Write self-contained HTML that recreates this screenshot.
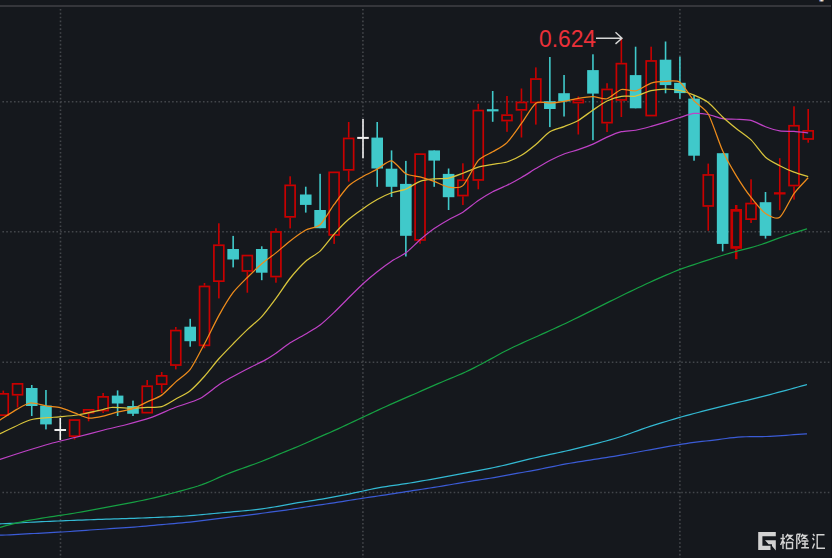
<!DOCTYPE html><html><head><meta charset="utf-8"><style>html,body{margin:0;padding:0;background:#15181d;width:832px;height:558px;overflow:hidden}svg{display:block}</style></head><body>
<svg width="832" height="558" viewBox="0 0 832 558">
<rect width="832" height="558" fill="#15181d"/>
<rect x="0" y="5" width="832" height="2" fill="#35363b"/>
<line x1="2.4" y1="101.8" x2="832" y2="101.8" stroke="#43464b" stroke-width="1.6" stroke-dasharray="1.6 2.257"/>
<line x1="2.4" y1="231.8" x2="832" y2="231.8" stroke="#43464b" stroke-width="1.6" stroke-dasharray="1.6 2.257"/>
<line x1="2.4" y1="362.3" x2="832" y2="362.3" stroke="#43464b" stroke-width="1.6" stroke-dasharray="1.6 2.257"/>
<line x1="2.4" y1="492.5" x2="832" y2="492.5" stroke="#43464b" stroke-width="1.6" stroke-dasharray="1.6 2.257"/>
<line x1="60.5" y1="9" x2="60.5" y2="558" stroke="#43464b" stroke-width="1.6" stroke-dasharray="1.6 2.264"/>
<line x1="362.9" y1="9" x2="362.9" y2="558" stroke="#43464b" stroke-width="1.6" stroke-dasharray="1.6 2.264"/>
<line x1="679.9" y1="9" x2="679.9" y2="558" stroke="#43464b" stroke-width="1.6" stroke-dasharray="1.6 2.264"/>
<rect x="2.5" y="390.6" width="1.6" height="2.4" fill="#c80000"/>
<rect x="-1.65" y="393.85" width="9.9" height="21.3" fill="#15181d" stroke="#c80000" stroke-width="1.7"/>
<rect x="16.75" y="395.6" width="1.6" height="11.9" fill="#c80000"/>
<rect x="12.6" y="383.85" width="9.9" height="10.9" fill="#15181d" stroke="#c80000" stroke-width="1.7"/>
<rect x="30.95" y="385" width="1.6" height="31" fill="#40c9ca"/>
<rect x="25.95" y="388" width="11.6" height="18" fill="#40c9ca"/>
<rect x="45.15" y="390" width="1.6" height="39.4" fill="#40c9ca"/>
<rect x="40.15" y="405.6" width="11.6" height="18.8" fill="#40c9ca"/>
<rect x="59.45" y="418" width="1.6" height="22" fill="#f0f0f0"/>
<rect x="54.45" y="429" width="11.6" height="2" fill="#f0f0f0"/>
<rect x="73.75" y="437" width="1.6" height="2.5" fill="#c80000"/>
<rect x="69.6" y="420.05" width="9.9" height="16.1" fill="#15181d" stroke="#c80000" stroke-width="1.7"/>
<rect x="87.8" y="413.5" width="1.6" height="7.8" fill="#c80000"/>
<rect x="83.65" y="409.85" width="9.9" height="2.8" fill="#15181d" stroke="#c80000" stroke-width="1.7"/>
<rect x="102.35" y="393" width="1.6" height="3" fill="#c80000"/>
<rect x="102.35" y="411.4" width="1.6" height="1.6" fill="#c80000"/>
<rect x="98.2" y="396.85" width="9.9" height="13.7" fill="#15181d" stroke="#c80000" stroke-width="1.7"/>
<rect x="116.8" y="390.4" width="1.6" height="25.6" fill="#40c9ca"/>
<rect x="111.8" y="395.6" width="11.6" height="7.9" fill="#40c9ca"/>
<rect x="132.2" y="400.6" width="1.6" height="15.4" fill="#40c9ca"/>
<rect x="127.2" y="406" width="11.6" height="7.75" fill="#40c9ca"/>
<rect x="146.4" y="380" width="1.6" height="5.4" fill="#c80000"/>
<rect x="142.25" y="386.25" width="9.9" height="26.4" fill="#15181d" stroke="#c80000" stroke-width="1.7"/>
<rect x="160.9" y="372" width="1.6" height="3" fill="#c80000"/>
<rect x="160.9" y="385" width="1.6" height="8" fill="#c80000"/>
<rect x="156.75" y="375.85" width="9.9" height="8.3" fill="#15181d" stroke="#c80000" stroke-width="1.7"/>
<rect x="175" y="327" width="1.6" height="2.7" fill="#c80000"/>
<rect x="175" y="365.9" width="1.6" height="3.5" fill="#c80000"/>
<rect x="170.85" y="330.55" width="9.9" height="34.5" fill="#15181d" stroke="#c80000" stroke-width="1.7"/>
<rect x="189.4" y="318.8" width="1.6" height="27.9" fill="#40c9ca"/>
<rect x="184.4" y="326.7" width="11.6" height="14.5" fill="#40c9ca"/>
<rect x="203.7" y="283" width="1.6" height="2.6" fill="#c80000"/>
<rect x="203.7" y="346.2" width="1.6" height="2.1" fill="#c80000"/>
<rect x="199.55" y="286.45" width="9.9" height="58.9" fill="#15181d" stroke="#c80000" stroke-width="1.7"/>
<rect x="218.05" y="223.3" width="1.6" height="21.1" fill="#c80000"/>
<rect x="218.05" y="282" width="1.6" height="16.4" fill="#c80000"/>
<rect x="213.9" y="245.25" width="9.9" height="35.9" fill="#15181d" stroke="#c80000" stroke-width="1.7"/>
<rect x="232.35" y="235.9" width="1.6" height="31.5" fill="#40c9ca"/>
<rect x="227.35" y="249" width="11.6" height="10.5" fill="#40c9ca"/>
<rect x="246.55" y="271.8" width="1.6" height="20.9" fill="#c80000"/>
<rect x="242.4" y="255.55" width="9.9" height="15.4" fill="#15181d" stroke="#c80000" stroke-width="1.7"/>
<rect x="260.95" y="246.3" width="1.6" height="33.9" fill="#40c9ca"/>
<rect x="255.95" y="249" width="11.6" height="23.7" fill="#40c9ca"/>
<rect x="275.15" y="228.3" width="1.6" height="2.8" fill="#c80000"/>
<rect x="275.15" y="277.4" width="1.6" height="5.3" fill="#c80000"/>
<rect x="271" y="231.95" width="9.9" height="44.6" fill="#15181d" stroke="#c80000" stroke-width="1.7"/>
<rect x="289.35" y="176.3" width="1.6" height="8.2" fill="#c80000"/>
<rect x="289.35" y="217.7" width="1.6" height="10.7" fill="#c80000"/>
<rect x="285.2" y="185.35" width="9.9" height="31.5" fill="#15181d" stroke="#c80000" stroke-width="1.7"/>
<rect x="304.95" y="186.7" width="1.6" height="25.9" fill="#40c9ca"/>
<rect x="299.95" y="194.5" width="11.6" height="10.4" fill="#40c9ca"/>
<rect x="319.3" y="173.8" width="1.6" height="54.4" fill="#40c9ca"/>
<rect x="314.3" y="210" width="11.6" height="18.2" fill="#40c9ca"/>
<rect x="333.35" y="235.8" width="1.6" height="8.1" fill="#c80000"/>
<rect x="329.2" y="172.35" width="9.9" height="62.6" fill="#15181d" stroke="#c80000" stroke-width="1.7"/>
<rect x="347.9" y="122" width="1.6" height="15.6" fill="#c80000"/>
<rect x="347.9" y="170.7" width="1.6" height="10.9" fill="#c80000"/>
<rect x="343.75" y="138.45" width="9.9" height="31.4" fill="#15181d" stroke="#c80000" stroke-width="1.7"/>
<rect x="362.2" y="119" width="1.6" height="39.3" fill="#f0f0f0"/>
<rect x="357.2" y="136.9" width="11.6" height="2" fill="#f0f0f0"/>
<rect x="376.4" y="122" width="1.6" height="64.8" fill="#40c9ca"/>
<rect x="371.4" y="137.6" width="11.6" height="30.9" fill="#40c9ca"/>
<rect x="390.75" y="150.4" width="1.6" height="46.6" fill="#40c9ca"/>
<rect x="385.75" y="168.7" width="11.6" height="18.1" fill="#40c9ca"/>
<rect x="405.05" y="160.9" width="1.6" height="95.6" fill="#40c9ca"/>
<rect x="400.05" y="183.9" width="11.6" height="51.9" fill="#40c9ca"/>
<rect x="419.25" y="240.8" width="1.6" height="2.9" fill="#c80000"/>
<rect x="415.1" y="154.15" width="9.9" height="85.8" fill="#15181d" stroke="#c80000" stroke-width="1.7"/>
<rect x="433.4" y="150.4" width="1.6" height="36.4" fill="#40c9ca"/>
<rect x="428.4" y="150.4" width="11.6" height="10.2" fill="#40c9ca"/>
<rect x="447.8" y="168.5" width="1.6" height="41.5" fill="#40c9ca"/>
<rect x="442.8" y="173.9" width="11.6" height="23.3" fill="#40c9ca"/>
<rect x="462.1" y="163.3" width="1.6" height="16.1" fill="#c80000"/>
<rect x="462.1" y="196.4" width="1.6" height="8.6" fill="#c80000"/>
<rect x="457.95" y="180.25" width="9.9" height="15.3" fill="#15181d" stroke="#c80000" stroke-width="1.7"/>
<rect x="477.5" y="103.8" width="1.6" height="5.9" fill="#c80000"/>
<rect x="477.5" y="180.8" width="1.6" height="8.5" fill="#c80000"/>
<rect x="473.35" y="110.55" width="9.9" height="69.4" fill="#15181d" stroke="#c80000" stroke-width="1.7"/>
<rect x="491.9" y="91" width="1.6" height="30.8" fill="#40c9ca"/>
<rect x="486.9" y="109.2" width="11.6" height="2.2" fill="#40c9ca"/>
<rect x="506.2" y="96" width="1.6" height="18.3" fill="#c80000"/>
<rect x="506.2" y="121.4" width="1.6" height="10.4" fill="#c80000"/>
<rect x="502.05" y="115.15" width="9.9" height="5.4" fill="#15181d" stroke="#c80000" stroke-width="1.7"/>
<rect x="520.65" y="88.5" width="1.6" height="13.1" fill="#c80000"/>
<rect x="520.65" y="110.7" width="1.6" height="26.8" fill="#c80000"/>
<rect x="516.5" y="102.45" width="9.9" height="7.4" fill="#15181d" stroke="#c80000" stroke-width="1.7"/>
<rect x="535.05" y="67.4" width="1.6" height="10.8" fill="#c80000"/>
<rect x="535.05" y="103.3" width="1.6" height="21.3" fill="#c80000"/>
<rect x="530.9" y="79.05" width="9.9" height="23.4" fill="#15181d" stroke="#c80000" stroke-width="1.7"/>
<rect x="549.05" y="57" width="1.6" height="70.1" fill="#40c9ca"/>
<rect x="544.05" y="101.2" width="11.6" height="7.8" fill="#40c9ca"/>
<rect x="563.25" y="75" width="1.6" height="41.5" fill="#40c9ca"/>
<rect x="558.25" y="93.2" width="11.6" height="8.2" fill="#40c9ca"/>
<rect x="577.5" y="96.4" width="1.6" height="2.7" fill="#c80000"/>
<rect x="577.5" y="103.4" width="1.6" height="31.1" fill="#c80000"/>
<rect x="573.35" y="99.95" width="9.9" height="2.6" fill="#15181d" stroke="#c80000" stroke-width="1.7"/>
<rect x="592.15" y="54.3" width="1.6" height="85.9" fill="#40c9ca"/>
<rect x="587.15" y="70.1" width="11.6" height="23.5" fill="#40c9ca"/>
<rect x="606.25" y="83.2" width="1.6" height="5.4" fill="#c80000"/>
<rect x="606.25" y="123.5" width="1.6" height="8.5" fill="#c80000"/>
<rect x="602.1" y="89.45" width="9.9" height="33.2" fill="#15181d" stroke="#c80000" stroke-width="1.7"/>
<rect x="620.55" y="38.3" width="1.6" height="24.5" fill="#c80000"/>
<rect x="620.55" y="100.8" width="1.6" height="16.2" fill="#c80000"/>
<rect x="616.4" y="63.65" width="9.9" height="36.3" fill="#15181d" stroke="#c80000" stroke-width="1.7"/>
<rect x="634.8" y="46.7" width="1.6" height="61.6" fill="#40c9ca"/>
<rect x="629.8" y="75.1" width="11.6" height="33.2" fill="#40c9ca"/>
<rect x="650.35" y="46.7" width="1.6" height="13.4" fill="#c80000"/>
<rect x="646.2" y="60.95" width="9.9" height="54.6" fill="#15181d" stroke="#c80000" stroke-width="1.7"/>
<rect x="664.75" y="41.5" width="1.6" height="51.8" fill="#40c9ca"/>
<rect x="659.75" y="59.7" width="11.6" height="25.4" fill="#40c9ca"/>
<rect x="679.1" y="56.7" width="1.6" height="42.1" fill="#40c9ca"/>
<rect x="674.1" y="82.8" width="11.6" height="10.3" fill="#40c9ca"/>
<rect x="693.25" y="95.4" width="1.6" height="65.3" fill="#40c9ca"/>
<rect x="688.25" y="98.6" width="11.6" height="57.1" fill="#40c9ca"/>
<rect x="707.45" y="163.6" width="1.6" height="10.5" fill="#c80000"/>
<rect x="707.45" y="206.8" width="1.6" height="23.9" fill="#c80000"/>
<rect x="703.3" y="174.95" width="9.9" height="31" fill="#15181d" stroke="#c80000" stroke-width="1.7"/>
<rect x="721.85" y="153.2" width="1.6" height="98.2" fill="#40c9ca"/>
<rect x="716.85" y="153.2" width="11.6" height="90.7" fill="#40c9ca"/>
<rect x="734.95" y="205" width="2.5" height="4" fill="#c80000"/>
<rect x="734.95" y="248.8" width="2.5" height="10.4" fill="#c80000"/>
<rect x="731.75" y="210.35" width="8.9" height="37.1" fill="#15181d" stroke="#c80000" stroke-width="2.7"/>
<rect x="750.25" y="179.3" width="1.6" height="23.4" fill="#c80000"/>
<rect x="750.25" y="220" width="1.6" height="3" fill="#c80000"/>
<rect x="746.1" y="203.55" width="9.9" height="15.6" fill="#15181d" stroke="#c80000" stroke-width="1.7"/>
<rect x="764.7" y="192" width="1.6" height="46.6" fill="#40c9ca"/>
<rect x="759.7" y="202.2" width="11.6" height="33.6" fill="#40c9ca"/>
<rect x="778.95" y="158.2" width="1.6" height="52" fill="#c80000"/>
<rect x="773.95" y="192.2" width="11.6" height="2.3" fill="#c80000"/>
<rect x="793.2" y="106.3" width="1.6" height="18.6" fill="#c80000"/>
<rect x="793.2" y="186.4" width="1.6" height="13.2" fill="#c80000"/>
<rect x="789.05" y="125.75" width="9.9" height="59.8" fill="#15181d" stroke="#c80000" stroke-width="1.7"/>
<rect x="807.4" y="109" width="1.6" height="21" fill="#c80000"/>
<rect x="807.4" y="139.8" width="1.6" height="2.9" fill="#c80000"/>
<rect x="803.25" y="130.85" width="9.9" height="8.1" fill="#15181d" stroke="#c80000" stroke-width="1.7"/>
<path d="M-2 535.26 L2 535.16 L6 535.02 L10 534.85 L14 534.63 L18 534.4 L22 534.16 L26 533.93 L30 533.7 L34 533.49 L38 533.28 L42 533.07 L46 532.86 L50 532.65 L54 532.43 L58 532.21 L62 531.98 L66 531.74 L70 531.49 L74 531.22 L78 530.93 L82 530.62 L86 530.31 L90 530.02 L94 529.74 L98 529.48 L102 529.23 L106 528.98 L110 528.72 L114 528.46 L118 528.2 L122 527.92 L126 527.64 L130 527.35 L134 527.05 L138 526.73 L142 526.39 L146 526.05 L150 525.69 L154 525.32 L158 524.96 L162 524.6 L166 524.24 L170 523.89 L174 523.54 L178 523.19 L182 522.82 L186 522.44 L190 522.04 L194 521.61 L198 521.15 L202 520.65 L206 520.14 L210 519.61 L214 519.08 L218 518.57 L222 518.07 L226 517.59 L230 517.12 L234 516.68 L238 516.24 L242 515.81 L246 515.35 L250 514.86 L254 514.35 L258 513.82 L262 513.28 L266 512.74 L270 512.21 L274 511.69 L278 511.17 L282 510.64 L286 510.09 L290 509.5 L294 508.89 L298 508.25 L302 507.61 L306 506.97 L310 506.35 L314 505.75 L318 505.15 L322 504.56 L326 503.97 L330 503.39 L334 502.8 L338 502.19 L342 501.57 L346 500.94 L350 500.28 L354 499.62 L358 498.97 L362 498.34 L366 497.74 L370 497.16 L374 496.59 L378 496.01 L382 495.42 L386 494.82 L390 494.19 L394 493.56 L398 492.93 L402 492.3 L406 491.67 L410 491.05 L414 490.44 L418 489.84 L422 489.24 L426 488.63 L430 488.03 L434 487.4 L438 486.76 L442 486.1 L446 485.41 L450 484.72 L454 484.02 L458 483.32 L462 482.64 L466 481.97 L470 481.33 L474 480.7 L478 480.09 L482 479.49 L486 478.88 L490 478.26 L494 477.62 L498 476.94 L502 476.21 L506 475.46 L510 474.69 L514 473.94 L518 473.2 L522 472.48 L526 471.76 L530 471.04 L534 470.3 L538 469.54 L542 468.76 L546 467.95 L550 467.13 L554 466.31 L558 465.5 L562 464.71 L566 463.96 L570 463.25 L574 462.57 L578 461.93 L582 461.3 L586 460.67 L590 460.05 L594 459.43 L598 458.81 L602 458.19 L606 457.57 L610 456.94 L614 456.3 L618 455.63 L622 454.94 L626 454.23 L630 453.5 L634 452.76 L638 452.01 L642 451.27 L646 450.53 L650 449.8 L654 449.07 L658 448.35 L662 447.63 L666 446.91 L670 446.2 L674 445.51 L678 444.83 L682 444.17 L686 443.54 L690 442.95 L694 442.39 L698 441.88 L702 441.42 L706 441 L710 440.58 L714 440.12 L718 439.59 L722 439.03 L726 438.47 L730 437.96 L734 437.53 L738 437.18 L742 436.93 L746 436.77 L750 436.67 L754 436.62 L758 436.6 L762 436.56 L766 436.5 L770 436.38 L774 436.2 L778 435.94 L782 435.64 L786 435.33 L790 435.02 L794 434.72 L798 434.44 L802 434.17 L806 433.9 L807 433.83" fill="none" stroke="#3b5bd6" stroke-width="1.2" stroke-linejoin="round"/>
<path d="M-2 523.9 L2 523.76 L6 523.62 L10 523.45 L14 523.25 L18 523.01 L22 522.76 L26 522.5 L30 522.26 L34 522.04 L38 521.84 L42 521.65 L46 521.48 L50 521.32 L54 521.15 L58 520.99 L62 520.83 L66 520.67 L70 520.51 L74 520.35 L78 520.19 L82 520.04 L86 519.88 L90 519.73 L94 519.59 L98 519.46 L102 519.33 L106 519.2 L110 519.08 L114 518.95 L118 518.83 L122 518.7 L126 518.57 L130 518.44 L134 518.3 L138 518.15 L142 517.99 L146 517.83 L150 517.67 L154 517.51 L158 517.34 L162 517.18 L166 517.01 L170 516.83 L174 516.65 L178 516.45 L182 516.24 L186 516 L190 515.71 L194 515.38 L198 515.02 L202 514.64 L206 514.26 L210 513.89 L214 513.51 L218 513.14 L222 512.77 L226 512.4 L230 512.03 L234 511.68 L238 511.33 L242 510.99 L246 510.63 L250 510.25 L254 509.83 L258 509.36 L262 508.84 L266 508.28 L270 507.67 L274 507.02 L278 506.33 L282 505.6 L286 504.85 L290 504.1 L294 503.37 L298 502.69 L302 502.07 L306 501.49 L310 500.92 L314 500.34 L318 499.71 L322 499.05 L326 498.36 L330 497.64 L334 496.91 L338 496.16 L342 495.4 L346 494.6 L350 493.79 L354 492.95 L358 492.1 L362 491.25 L366 490.39 L370 489.53 L374 488.71 L378 487.93 L382 487.21 L386 486.55 L390 485.94 L394 485.36 L398 484.79 L402 484.21 L406 483.62 L410 482.99 L414 482.34 L418 481.66 L422 480.96 L426 480.26 L430 479.55 L434 478.84 L438 478.12 L442 477.4 L446 476.67 L450 475.93 L454 475.2 L458 474.46 L462 473.71 L466 472.96 L470 472.2 L474 471.44 L478 470.67 L482 469.89 L486 469.11 L490 468.32 L494 467.51 L498 466.66 L502 465.78 L506 464.85 L510 463.89 L514 462.9 L518 461.91 L522 460.92 L526 459.93 L530 458.95 L534 457.99 L538 457.06 L542 456.16 L546 455.3 L550 454.44 L554 453.6 L558 452.75 L562 451.88 L566 450.98 L570 450.05 L574 449.09 L578 448.11 L582 447.11 L586 446.11 L590 445.1 L594 444.09 L598 443.07 L602 442.03 L606 440.97 L610 439.88 L614 438.74 L618 437.53 L622 436.24 L626 434.88 L630 433.47 L634 432.03 L638 430.58 L642 429.16 L646 427.78 L650 426.44 L654 425.15 L658 423.9 L662 422.68 L666 421.46 L670 420.26 L674 419.08 L678 417.92 L682 416.79 L686 415.68 L690 414.6 L694 413.53 L698 412.47 L702 411.42 L706 410.38 L710 409.36 L714 408.34 L718 407.33 L722 406.33 L726 405.34 L730 404.36 L734 403.4 L738 402.44 L742 401.49 L746 400.55 L750 399.59 L754 398.62 L758 397.63 L762 396.62 L766 395.59 L770 394.55 L774 393.49 L778 392.44 L782 391.37 L786 390.3 L790 389.21 L794 388.12 L798 387.02 L802 385.92 L806 384.81 L807 384.54" fill="none" stroke="#33b9d3" stroke-width="1.2" stroke-linejoin="round"/>
<path d="M-2 527.99 L2 526.84 L6 525.7 L10 524.6 L14 523.57 L18 522.62 L22 521.75 L26 520.95 L30 520.21 L34 519.5 L38 518.81 L42 518.15 L46 517.51 L50 516.89 L54 516.3 L58 515.71 L62 515.12 L66 514.51 L70 513.88 L74 513.22 L78 512.53 L82 511.83 L86 511.11 L90 510.39 L94 509.66 L98 508.92 L102 508.17 L106 507.41 L110 506.65 L114 505.89 L118 505.13 L122 504.36 L126 503.6 L130 502.83 L134 502.06 L138 501.28 L142 500.49 L146 499.66 L150 498.78 L154 497.85 L158 496.88 L162 495.86 L166 494.83 L170 493.79 L174 492.73 L178 491.67 L182 490.6 L186 489.51 L190 488.4 L194 487.24 L198 485.99 L202 484.61 L206 483.08 L210 481.43 L214 479.69 L218 477.92 L222 476.16 L226 474.46 L230 472.85 L234 471.33 L238 469.88 L242 468.47 L246 467.08 L250 465.69 L254 464.27 L258 462.8 L262 461.26 L266 459.66 L270 458.01 L274 456.33 L278 454.67 L282 453.02 L286 451.39 L290 449.78 L294 448.15 L298 446.48 L302 444.76 L306 442.99 L310 441.2 L314 439.41 L318 437.64 L322 435.9 L326 434.17 L330 432.43 L334 430.66 L338 428.84 L342 427 L346 425.13 L350 423.25 L354 421.36 L358 419.48 L362 417.59 L366 415.72 L370 413.84 L374 411.97 L378 410.11 L382 408.26 L386 406.43 L390 404.62 L394 402.85 L398 401.1 L402 399.37 L406 397.65 L410 395.92 L414 394.18 L418 392.43 L422 390.66 L426 388.89 L430 387.12 L434 385.37 L438 383.63 L442 381.94 L446 380.27 L450 378.63 L454 376.98 L458 375.31 L462 373.58 L466 371.78 L470 369.87 L474 367.88 L478 365.82 L482 363.7 L486 361.55 L490 359.37 L494 357.18 L498 354.99 L502 352.84 L506 350.75 L510 348.74 L514 346.81 L518 344.94 L522 343.12 L526 341.32 L530 339.53 L534 337.74 L538 335.95 L542 334.15 L546 332.35 L550 330.54 L554 328.73 L558 326.91 L562 325.07 L566 323.19 L570 321.28 L574 319.33 L578 317.36 L582 315.38 L586 313.39 L590 311.39 L594 309.4 L598 307.4 L602 305.4 L606 303.4 L610 301.41 L614 299.43 L618 297.46 L622 295.51 L626 293.58 L630 291.65 L634 289.74 L638 287.83 L642 285.94 L646 284.06 L650 282.21 L654 280.4 L658 278.62 L662 276.87 L666 275.13 L670 273.43 L674 271.77 L678 270.18 L682 268.68 L686 267.25 L690 265.89 L694 264.56 L698 263.25 L702 261.94 L706 260.64 L710 259.34 L714 258.04 L718 256.75 L722 255.49 L726 254.27 L730 253.1 L734 252 L738 250.94 L742 249.92 L746 248.89 L750 247.83 L754 246.71 L758 245.51 L762 244.2 L766 242.81 L770 241.37 L774 239.89 L778 238.42 L782 236.98 L786 235.58 L790 234.23 L794 232.93 L798 231.66 L802 230.41 L806 229.17 L807 228.86" fill="none" stroke="#16a043" stroke-width="1.2" stroke-linejoin="round"/>
<path d="M-2 460 C-1.76 459.93 -3.24 460.44 0 459.4 C3.24 458.36 19 453.18 25 451.3 C31 449.42 44 445.41 50 443.75 C56 442.09 68.52 439.15 75 437.5 C81.48 435.85 98 431.5 104 430 C110 428.5 119.48 426.45 125 425 C130.52 423.55 144 420 150 417.9 C156 415.8 169 409.83 175 407.5 C181 405.17 194.47 401.4 200 398.5 C205.53 395.6 215.56 386.78 221.1 383.3 C226.64 379.82 240.93 372.28 246.2 369.5 C251.47 366.72 261.43 362.05 265 360.1 C268.57 358.15 272.93 355.33 275.95 353.26 C278.97 351.19 286.57 345.15 290.15 342.83 C293.73 340.51 302.16 336.06 305.75 333.93 C309.34 331.79 316.69 327.62 320.1 325.04 C323.51 322.45 330.72 315.66 334.15 312.39 C337.58 309.12 345.24 301.21 348.7 297.77 C352.16 294.33 359.58 286.84 363 283.71 C366.42 280.58 373.77 274.38 377.2 271.68 C380.63 268.98 388.11 263.48 391.55 261.22 C394.99 258.96 402.43 255.41 405.85 252.84 C409.27 250.27 416.65 242.73 420.05 239.82 C423.45 236.9 430.77 230.99 434.2 228.58 C437.63 226.16 445.16 221.65 448.6 219.69 C452.04 217.72 459.34 214.46 462.9 212.17 C466.46 209.88 474.72 203.04 478.3 200.59 C481.88 198.15 489.26 193.66 492.7 191.83 C496.14 190 503.55 187.05 507 185.33 C510.45 183.6 517.99 179.44 521.45 177.43 C524.91 175.42 532.44 170.65 535.85 168.6 C539.26 166.56 546.47 162.18 549.85 160.42 C553.23 158.66 560.64 155.23 564.05 153.94 C567.46 152.64 574.83 150.85 578.3 149.67 C581.77 148.48 589.5 145.61 592.95 144.1 C596.4 142.59 603.64 138.61 607.05 137.12 C610.46 135.63 617.92 132.51 621.35 131.69 C624.78 130.86 632.02 130.86 635.6 130.22 C639.18 129.58 647.56 127.3 651.15 126.33 C654.74 125.36 662.1 123.22 665.55 122.16 C669 121.1 676.48 118.52 679.9 117.48 C683.32 116.43 690.65 113.83 694.05 113.47 C697.45 113.11 704.82 113.89 708.25 114.51 C711.68 115.13 719.3 118.1 722.65 118.68 C726 119.25 732.79 119.05 736.2 119.27 C739.61 119.48 747.53 119.53 751.05 120.43 C754.57 121.33 762.06 125.48 765.5 126.73 C768.94 127.99 776.33 130.33 779.75 130.89 C783.17 131.45 790.59 131.18 794 131.42 C797.41 131.65 806.5 132.67 808.2 132.84" fill="none" stroke="#bf42c6" stroke-width="1.2" stroke-linejoin="round"/>
<path d="M-2 434.7 C-1.76 434.59 -3.84 435.51 0 433.75 C3.84 431.99 23.55 421.98 30 420 C36.45 418.02 48.06 417.85 53.75 417.25 C59.44 416.65 71.73 415.87 77.4 415 C83.07 414.13 96.94 410.9 101 410 C105.06 409.1 107.41 407.72 111.25 407.5 C115.09 407.28 128.69 408.19 133 408.18 C137.31 408.18 143.76 407.61 147.2 407.42 C150.64 407.24 158.27 407.64 161.7 406.62 C165.13 405.61 172.38 400.91 175.8 398.99 C179.22 397.08 186.76 393.41 190.2 390.67 C193.64 387.94 201.06 380.07 204.5 376.23 C207.94 372.4 215.41 362.65 218.85 358.75 C222.29 354.86 229.73 347.29 233.15 343.81 C236.57 340.32 243.92 332.94 247.35 329.67 C250.78 326.41 258.32 320.36 261.75 316.6 C265.18 312.83 272.54 302.93 275.95 298.33 C279.36 293.73 286.57 282.69 290.15 278.24 C293.73 273.79 302.16 264.49 305.75 261.23 C309.34 257.97 316.69 254.33 320.1 251.08 C323.51 247.83 330.72 237.92 334.15 234.11 C337.58 230.3 345.24 222.36 348.7 219.31 C352.16 216.26 359.58 211.03 363 208.66 C366.42 206.29 373.77 201.47 377.2 199.56 C380.63 197.65 388.11 194.03 391.55 192.77 C394.99 191.51 402.43 190.46 405.85 189.08 C409.27 187.7 416.65 182.52 420.05 181.3 C423.45 180.08 430.77 179.29 434.2 178.91 C437.63 178.53 445.16 178.82 448.6 178.14 C452.04 177.46 459.34 174.59 462.9 173.26 C466.46 171.93 474.72 168.15 478.3 167.08 C481.88 166.01 489.26 164.96 492.7 164.35 C496.14 163.74 503.55 163.08 507 161.99 C510.45 160.9 517.99 157.41 521.45 155.3 C524.91 153.19 532.44 147.26 535.85 144.44 C539.26 141.62 546.47 133.9 549.85 131.76 C553.23 129.62 560.64 127.93 564.05 126.57 C567.46 125.21 574.83 122.4 578.3 120.42 C581.77 118.44 589.5 112.39 592.95 110.06 C596.4 107.73 603.64 102.63 607.05 100.98 C610.46 99.33 617.92 96.88 621.35 96.29 C624.78 95.7 632.02 96.76 635.6 96.09 C639.18 95.42 647.56 91.52 651.15 90.67 C654.74 89.82 662.1 89.04 665.55 89.02 C669 89 676.48 89.77 679.9 90.51 C683.32 91.25 690.65 93.75 694.05 95.18 C697.45 96.61 704.82 99.84 708.25 102.45 C711.68 105.06 719.3 113.81 722.65 116.93 C726 120.05 732.79 125.72 736.2 128.47 C739.61 131.22 747.53 136.43 751.05 139.88 C754.57 143.33 762.06 154.08 765.5 157.18 C768.94 160.28 776.33 163.89 779.75 165.69 C783.17 167.48 790.59 170.85 794 172.17 C797.41 173.48 806.5 176.12 808.2 176.66" fill="none" stroke="#d9c53c" stroke-width="1.25" stroke-linejoin="round"/>
<path d="M-2 421 C-1.76 420.88 -2.26 421.39 0 420 C2.26 418.61 13.16 411.44 16.8 409.4 C20.44 407.36 26.66 403.4 30.3 403 C33.94 402.6 43.51 405.54 47.1 406.1 C50.69 406.66 56.96 406.86 60.25 407.68 C63.54 408.5 71.15 411.67 74.55 412.92 C77.95 414.17 85.17 417.74 88.6 418.12 C92.03 418.5 99.67 416.86 103.15 416.12 C106.63 415.38 114.02 412.83 117.6 411.94 C121.18 411.05 129.45 409.89 133 408.69 C136.55 407.49 143.76 403.56 147.2 401.93 C150.64 400.3 158.27 397.54 161.7 395.13 C165.13 392.72 172.38 384.96 175.8 381.87 C179.22 378.78 186.76 373.98 190.2 369.41 C193.64 364.84 201.06 350.24 204.5 343.78 C207.94 337.32 215.41 321.74 218.85 315.58 C222.29 309.42 229.73 297.05 233.15 292.48 C236.57 287.91 243.92 280.92 247.35 277.48 C250.78 274.04 258.32 266.73 261.75 263.78 C265.18 260.83 272.54 255.63 275.95 252.88 C279.36 250.13 286.57 243.65 290.15 240.9 C293.73 238.15 302.16 231.93 305.75 229.98 C309.34 228.03 316.69 227.74 320.1 224.68 C323.51 221.62 330.72 209.11 334.15 204.44 C337.58 199.77 345.24 189.1 348.7 185.74 C352.16 182.38 359.58 178.41 363 176.42 C366.42 174.43 373.77 171.01 377.2 169.14 C380.63 167.27 388.11 160.31 391.55 160.86 C394.99 161.41 402.43 171.8 405.85 173.72 C409.27 175.64 416.65 175.94 420.05 176.86 C423.45 177.78 430.77 180.17 434.2 181.4 C437.63 182.63 445.16 186.63 448.6 187.14 C452.04 187.65 459.34 188.86 462.9 185.66 C466.46 182.46 474.72 164.5 478.3 160.44 C481.88 156.38 489.26 153.98 492.7 151.84 C496.14 149.7 503.55 145.99 507 142.58 C510.45 139.17 517.99 128.18 521.45 123.46 C524.91 118.74 532.44 105.67 535.85 103.22 C539.26 100.77 546.47 103.31 549.85 103.08 C553.23 102.85 560.64 101.88 564.05 101.3 C567.46 100.72 574.83 98.82 578.3 98.26 C581.77 97.7 589.5 96.6 592.95 96.66 C596.4 96.72 603.64 99.6 607.05 98.74 C610.46 97.88 617.92 90.44 621.35 89.5 C624.78 88.56 632.02 91.65 635.6 90.88 C639.18 90.11 647.56 84.22 651.15 83.08 C654.74 81.94 662.1 81.48 665.55 81.38 C669 81.28 676.48 79.94 679.9 82.28 C683.32 84.62 690.65 97.05 694.05 100.86 C697.45 104.67 704.82 108.03 708.25 114.02 C711.68 120.01 719.3 143.4 722.65 150.78 C726 158.16 732.79 169.96 736.2 175.56 C739.61 181.16 747.53 192.93 751.05 197.48 C754.57 202.03 762.06 211.12 765.5 213.5 C768.94 215.88 776.33 219.74 779.75 217.35 C783.17 214.96 790.59 198.3 794 193.55 C797.41 188.8 806.5 179.65 808.2 177.75" fill="none" stroke="#ee8c1c" stroke-width="1.25" stroke-linejoin="round"/>
<rect x="831" y="0" width="1" height="558" fill="#0f1115"/>
<defs><linearGradient id="bl" x1="0" x2="1"><stop offset="0" stop-color="#1f3ea0"/><stop offset="0.5" stop-color="#f4f4f0"/><stop offset="1" stop-color="#e0a060"/></linearGradient></defs>
<rect x="818.8" y="0" width="5" height="1.6" rx="0.8" fill="url(#bl)"/>
<text x="539" y="47" font-family="Liberation Sans, sans-serif" font-size="24" fill="#ea3039" textLength="57" lengthAdjust="spacingAndGlyphs">0.624</text>
<path d="M596 38.2 H622 M615.5 32.3 L622 38.2 L615.5 43.9" fill="none" stroke="#d6d6d6" stroke-width="1.4"/>
<g fill="#d2d2d2">
<path d="M758.2 532 H775.8 V536.2 H762.4 V545.8 H770.5 V550 H758.2 Z"/>
<path d="M765 540.2 H775.8 V550.6 L772 546 V544.2 H768.6 Z"/>
</g>
<g fill="none" stroke="#d2d2d2" stroke-width="1.4" stroke-linecap="butt">
<path d="M780.5 538.5 H785 M783 534 V549 M783 539.5 L780.6 545 M783 541 L784.8 543.5"/>
<path d="M788 533.8 L785.6 537.5 M787.5 535.5 H792 L787 540.5 M788.5 536.5 L793.8 540.5 M786.5 542.5 H792.5 V548.5 H786.5 Z"/>
<path d="M796.8 534.3 V549 M796.8 534.3 H800 L798.5 539 L800.3 542 L798.2 544"/>
<path d="M803 534 L801 537 M802 535.5 H806.5 L801.5 539.5 M803 537 L807.5 539.5 M801.2 541 H808.5 M802 544 H808 M801.2 547.8 H809 M805 541 V548"/>
<path d="M813 534 L814.5 536 M812.5 538 L814 540 M812.5 548.5 L814.5 543.5"/>
<path d="M824.5 534.8 H817.2 V548.2 H825"/>
</g>
</svg></body></html>
